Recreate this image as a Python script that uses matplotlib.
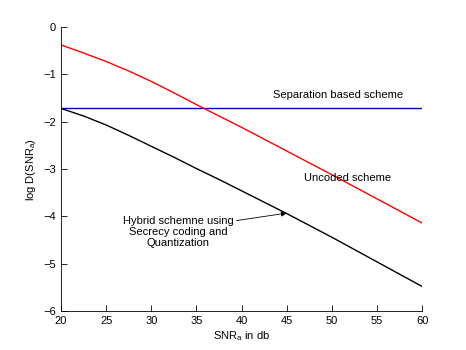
import matplotlib
matplotlib.use("Agg")
import matplotlib.pyplot as plt
import numpy as np

plt.rcParams['font.family'] = ['Liberation Sans', 'DejaVu Sans']

# values
snr = [20, 22.5, 25, 27.5, 30, 32.5, 35, 37.5, 40, 45, 50, 55, 60]
uncoded = [-0.38, -0.55, -0.73, -0.93, -1.15, -1.39, -1.64, -1.88, -2.12,
           -2.62, -3.12, -3.63, -4.14]
hybrid = [-1.72, -1.88, -2.07, -2.29, -2.52, -2.75, -2.99, -3.22, -3.46,
          -3.94, -4.44, -4.96, -5.48]
separation = [-1.72] * len(snr)

fig = plt.figure(figsize=(4.66, 3.5), dpi=100)
ax = fig.add_axes([0.131, 0.111, 0.775, 0.812])

ax.plot(snr, separation, color="#0000cc", lw=1.0)
ax.plot(snr, uncoded, color="red", lw=1.0)
ax.plot(snr, hybrid, color="black", lw=1.0)

ax.text(50.7, -1.44, "Separation based scheme", ha="center", va="center", fontsize=8)
ax.text(51.7, -3.19, "Uncoded scheme", ha="center", va="center", fontsize=8)
ax.annotate("Hybrid schemne using\nSecrecy coding and\nQuantization",
            xy=(45, -3.93), xytext=(33, -4.33),
            ha="center", va="center", fontsize=8, linespacing=1.1,
            arrowprops=dict(arrowstyle="-|>", color="black", lw=0.6,
                            shrinkA=0, shrinkB=0, relpos=(1.0, 0.85)))

ax.set_xlim(20, 60)
ax.set_ylim(-6, 0)
ax.set_xticks(np.arange(20, 61, 5))
ax.set_yticks(np.arange(-6, 1, 1))
ax.set_yticklabels(["\u22126", "\u22125", "\u22124", "\u22123", "\u22122", "\u22121", "0"])
ax.tick_params(direction="in", length=4, labelsize=8, width=0.6)
ax.spines["top"].set_visible(False)
ax.spines["right"].set_visible(False)
for s in ["left", "bottom"]:
    ax.spines[s].set_linewidth(0.6)

ax.set_xlabel("SNR$_\\mathregular{a}$ in db", fontsize=8, labelpad=2)
ax.set_ylabel("log D(SNR$_\\mathregular{a}$)", fontsize=8, labelpad=4)

fig.savefig("out.png", dpi=100)
